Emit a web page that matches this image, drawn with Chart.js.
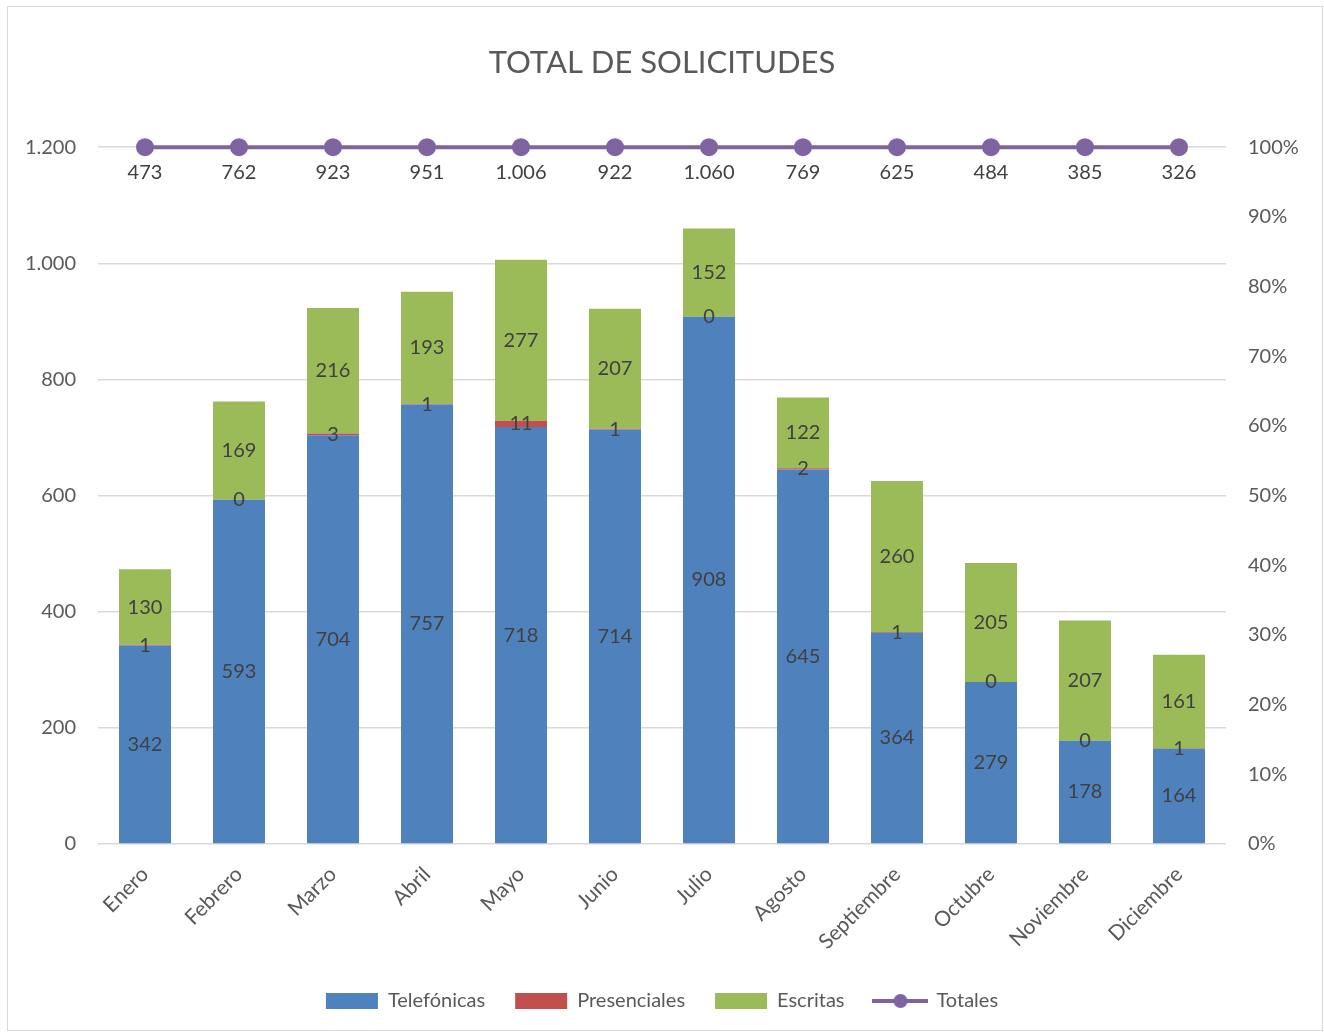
<!DOCTYPE html>
<html>
<head>
<meta charset="utf-8">
<script src="https://cdn.jsdelivr.net/npm/chart.js@4"></script>
<style>
  body { margin: 0; background: #fff; }
  #wrap { position: relative; width: 1324px; height: 1035px; }
  #frame { position: absolute; left: 7px; top: 6px; width: 1314px; height: 1023px; border: 1px solid #d9d9d9; pointer-events: none; }
</style>
</head>
<body>
<div id="wrap">
  <canvas id="chart" width="1324" height="1035"></canvas>
  <div id="frame"></div>
</div>
<script>
const months = ["Enero", "Febrero", "Marzo", "Abril", "Mayo", "Junio", "Julio", "Agosto", "Septiembre", "Octubre", "Noviembre", "Diciembre"];
const telefonicas = [342, 593, 704, 757, 718, 714, 908, 645, 364, 279, 178, 164];
const presenciales = [1, 0, 3, 1, 11, 1, 0, 2, 1, 0, 0, 1];
const escritas = [130, 169, 216, 193, 277, 207, 152, 122, 260, 205, 207, 161];
const totales = [473, 762, 923, 951, 1006, 922, 1060, 769, 625, 484, 385, 326];

const FONT = "Lato, 'Open Sans', sans-serif";
const GREY = "#595959";
const LABEL = "#404040";

// Spanish style thousands separator: 1.200
const fmt = v => String(Math.round(v)).replace(/\B(?=(\d{3})+(?!\d))/g, ".");

// Totales is drawn as its share of the month (always 100%)
const totalShare = totales.map((t, i) => t / (telefonicas[i] + presenciales[i] + escritas[i]));

// legend marker for the line series: line with a dot
const lineMark = document.createElement("canvas");
lineMark.width = 56;
lineMark.height = 16;
(() => {
  const c = lineMark.getContext("2d");
  c.strokeStyle = "#8064A2";
  c.lineWidth = 4;
  c.beginPath();
  c.moveTo(0, 8);
  c.lineTo(56, 8);
  c.stroke();
  c.fillStyle = "#8064A2";
  c.beginPath();
  c.arc(28, 8, 7, 0, Math.PI * 2);
  c.fill();
})();

const valueLabels = {
  id: "valueLabels",
  afterDatasetsDraw(chart) {
    const ctx = chart.ctx;
    ctx.save();
    ctx.font = "20px " + FONT;
    ctx.fillStyle = LABEL;
    ctx.textAlign = "center";
    ctx.textBaseline = "middle";
    chart.data.datasets.forEach((ds, di) => {
      const meta = chart.getDatasetMeta(di);
      meta.data.forEach((el, i) => {
        if (ds.type === "line") {
          ctx.fillText(fmt(totales[i]), el.x, el.y + 25);
        } else {
          ctx.fillText(fmt(ds.data[i]), el.x, (el.y + el.base) / 2);
        }
      });
    });
    ctx.restore();
  }
};

new Chart(document.getElementById("chart"), {
  data: {
    labels: months,
    datasets: [
      {
        type: "line",
        label: "Totales",
        data: totalShare,
        yAxisID: "y1",
        borderColor: "#8064A2",
        backgroundColor: "#8064A2",
        borderWidth: 4,
        pointRadius: 7,
        pointHoverRadius: 7,
        pointBackgroundColor: "#8064A2",
        clip: false,
        order: 0
      },
      {
        type: "bar",
        label: "Telefónicas",
        data: telefonicas,
        backgroundColor: "#4F81BD",
        order: 1
      },
      {
        type: "bar",
        label: "Presenciales",
        data: presenciales,
        backgroundColor: "#C0504D",
        order: 1
      },
      {
        type: "bar",
        label: "Escritas",
        data: escritas,
        backgroundColor: "#9BBB59",
        order: 1
      }
    ]
  },
  options: {
    responsive: false,
    animation: false,
    events: [],
    datasets: {
      bar: { barPercentage: 0.553, categoryPercentage: 1 }
    },
    layout: { padding: { left: 0, right: 0, top: 0, bottom: 14 } },
    plugins: {
      tooltip: { enabled: false },
      title: {
        display: true,
        text: "TOTAL DE SOLICITUDES",
        color: GREY,
        font: { family: FONT, size: 31, weight: "normal" },
        padding: { top: 44, bottom: 66 }
      },
      legend: {
        position: "bottom",
        labels: {
          color: GREY,
          font: { family: FONT, size: 20 },
          usePointStyle: true,
          pointStyleWidth: 52,
          boxHeight: 16,
          padding: 30,
          generateLabels(chart) {
            const items = Chart.defaults.plugins.legend.labels.generateLabels(chart);
            items.forEach(it => {
              it.pointStyle = it.text === "Totales" ? lineMark : "rect";
              it.lineWidth = 0;
            });
            const order = ["Telefónicas", "Presenciales", "Escritas", "Totales"];
            return items.sort((a, b) => order.indexOf(a.text) - order.indexOf(b.text));
          }
        }
      }
    },
    scales: {
      x: {
        stacked: true,
        grid: { display: false },
        border: { display: false },
        ticks: {
          color: GREY,
          font: { family: FONT, size: 21 },
          minRotation: 45,
          maxRotation: 45,
          padding: 10
        },
        afterFit(scale) { scale.height = 117; }
      },
      y: {
        stacked: true,
        position: "left",
        min: 0,
        max: 1200,
        grid: { color: "#d9d9d9", lineWidth: 1.5, drawTicks: false },
        border: { display: false },
        ticks: {
          stepSize: 200,
          color: GREY,
          font: { family: FONT, size: 20 },
          padding: 22,
          callback: v => fmt(v)
        },
        afterFit(scale) { scale.width = 98; }
      },
      y1: {
        position: "right",
        min: 0,
        max: 1,
        grid: { display: false, drawTicks: false },
        border: { display: false },
        ticks: {
          stepSize: 0.1,
          color: GREY,
          font: { family: FONT, size: 20 },
          padding: 22,
          callback: v => Math.round(v * 100) + "%"
        },
        afterFit(scale) { scale.width = 98; }
      }
    }
  },
  plugins: [valueLabels]
});
</script>
</body>
</html>
